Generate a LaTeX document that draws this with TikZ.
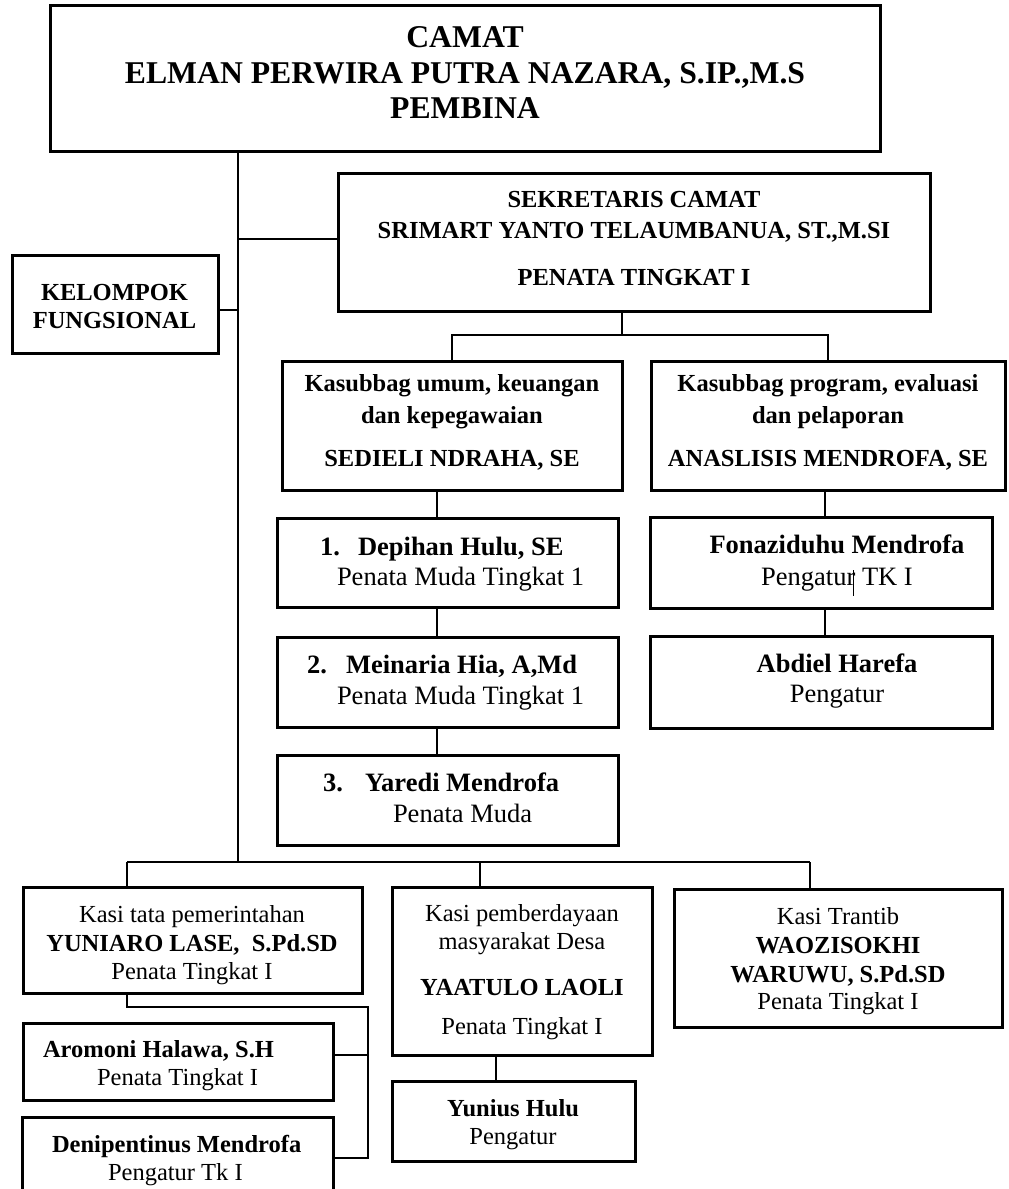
\documentclass[tikz,border=0pt]{standalone}
\usepackage{fontspec}
\setmainfont{Liberation Serif}
\begin{document}
\begin{tikzpicture}[x=1pt,y=-1pt,
  box/.style={draw, line width=3pt, inner sep=0pt, outer sep=0pt},
  conn/.style={line width=1.1pt},
  tl/.style={inner sep=0pt, outer sep=0pt, anchor=base},
  tlw/.style={inner sep=0pt, outer sep=0pt, anchor=base west},
  big/.style={tl, font=\bfseries\fontsize{31.7}{36}\selectfont},
  bb/.style={tl, font=\bfseries\fontsize{24.5}{28}\selectfont},
  rr/.style={tl, font=\fontsize{24.5}{28}\selectfont},
  bbw/.style={tlw, font=\bfseries\fontsize{24.5}{28}\selectfont},
  rrw/.style={tlw, font=\fontsize{24.5}{28}\selectfont},
  bL/.style={tl, font=\bfseries\fontsize{26.5}{30}\selectfont},
  rL/.style={tl, font=\fontsize{26.5}{30}\selectfont},
  bLw/.style={tlw, font=\bfseries\fontsize{26.5}{30}\selectfont},
  rLw/.style={tlw, font=\fontsize{26.5}{30}\selectfont},
]
\clip (0,0) rectangle (1009,1189);
\fill[white] (0,0) rectangle (1009,1189);

% boxes
\node[box, minimum width=830pt, minimum height=146pt] (camat) at (465,78) {};
\node[box, minimum width=592pt, minimum height=138pt] (sek) at (634,242) {};
\node[box, minimum width=206pt, minimum height=98pt] (kel) at (115,304) {};
\node[box, minimum width=340pt, minimum height=129pt] (kum) at (452,425.5) {};
\node[box, minimum width=354pt, minimum height=129pt] (kpr) at (828,425.5) {};
\node[box, minimum width=341pt, minimum height=89pt] (dep) at (447.5,562.5) {};
\node[box, minimum width=341pt, minimum height=90pt] (mei) at (447.5,682) {};
\node[box, minimum width=341pt, minimum height=90pt] (yar) at (447.5,800) {};
\node[box, minimum width=342pt, minimum height=91pt] (fon) at (821,562.5) {};
\node[box, minimum width=342pt, minimum height=92pt] (abd) at (821,682) {};
\node[box, minimum width=339pt, minimum height=106pt] (kt) at (192.5,940) {};
\node[box, minimum width=260pt, minimum height=168pt] (pem) at (522,971) {};
\node[box, minimum width=328pt, minimum height=138pt] (tra) at (838,958) {};
\node[box, minimum width=310pt, minimum height=77pt] (aro) at (178,1061.5) {};
\node[box, minimum width=311pt, minimum height=82pt] (den) at (177.5,1158) {};
\node[box, minimum width=243pt, minimum height=80pt] (yun) at (513.5,1121) {};

% connectors
\coordinate (bus) at (238,862);
\draw[conn] (camat.south -| bus) -- (bus);
\draw[conn] ([yshift=3pt]sek.west -| bus) -- ([yshift=3pt]sek.west);
\draw[conn] ([yshift=-6pt]kel.east) -- ([yshift=-6pt]kel.east -| bus);
\coordinate (j1) at (622,335);
\draw[conn] (sek.south -| j1) -- (j1);
\draw[conn] (kum.north) |- (j1) -| (kpr.north);
\coordinate (jl) at (437,500);
\draw[conn] (kum.south -| jl) -- (dep.north -| jl);
\draw[conn] (dep.south -| jl) -- (mei.north -| jl);
\draw[conn] (mei.south -| jl) -- (yar.north -| jl);
\coordinate (jr) at (825,500);
\draw[conn] (kpr.south -| jr) -- (fon.north -| jr);
\draw[conn] (fon.south -| jr) -- (abd.north -| jr);
\coordinate (bl) at (127,862);
\coordinate (bm) at (480,862);
\coordinate (br) at (810,862);
\draw[conn] (bl) -- (br);
\draw[conn] (bl) -- (kt.north -| bl);
\draw[conn] (bm) -- (pem.north -| bm);
\draw[conn] (br) -- (tra.north -| br);
\coordinate (kb) at (127,1007);
\coordinate (kr) at (368,1007);
\draw[conn] (kt.south -| kb) -- (kb) -- (kr) |- (den.east);
\draw[conn] ([yshift=6.5pt]aro.east) -- ([yshift=6.5pt]aro.east -| kr);
\coordinate (yj) at (496,1068);
\draw[conn] (pem.south -| yj) -- (yun.north -| yj);

% texts
\node[big] (t1) at (465,47) {CAMAT};
\node[big] (t2) at (465,83) {ELMAN PERWIRA PUTRA NAZARA, S.IP.,M.S};
\node[big] (t3) at (465,118.5) {PEMBINA};

\node[bb] (s1) at (634,207) {SEKRETARIS CAMAT};
\node[bb] (s2) at (634,238) {SRIMART YANTO TELAUMBANUA, ST.,M.SI};
\node[bb] (s3) at (634,285) {PENATA TINGKAT I};

\node[bb] (k1) at (114.5,300) {KELOMPOK};
\node[bb] (k2) at (114.5,328) {FUNGSIONAL};

\node[bb] (u1) at (452,391) {Kasubbag umum, keuangan};
\node[bb] (u2) at (452,423) {dan kepegawaian};
\node[bb] (u3) at (452,466) {SEDIELI NDRAHA, SE};

\node[bb] (p1) at (828,391) {Kasubbag program, evaluasi};
\node[bb] (p2) at (828,423) {dan pelaporan};
\node[bb] (p3) at (828,466) {ANASLISIS MENDROFA, SE};

\node[bLw] (d0) at (320,555) {1.};
\node[bLw] (d1) at (358,555) {Depihan Hulu, SE};
\node[rLw] (d2) at (337,585) {Penata Muda Tingkat 1};
\node[bLw] (m0) at (307,673) {2.};
\node[bLw] (m1) at (346,673) {Meinaria Hia, A,Md};
\node[rLw] (m2) at (337,704) {Penata Muda Tingkat 1};
\node[bLw] (y0) at (323,791) {3.};
\node[bLw] (y1) at (365,791) {Yaredi Mendrofa};
\node[rLw] (y2) at (393,822) {Penata Muda};

\node[bL] (f1) at (837,553) {Fonaziduhu Mendrofa};
\node[rL] (f2) at (837,585) {Pengatur TK I};
\draw[line width=1pt] (853,570) -- (853,596);
\node[bL] (a1) at (837,672) {Abdiel Harefa};
\node[rL] (a2) at (837,702) {Pengatur};

\node[rr] (kt1) at (192,922) {Kasi tata pemerintahan};
\node[bb] (kt2) at (192,951) {YUNIARO LASE,\ \ S.Pd.SD};
\node[rr] (kt3) at (192,979) {Penata Tingkat I};

\node[bbw] (ar1) at (43,1057) {Aromoni Halawa, S.H};
\node[rrw] (ar2) at (97,1085) {Penata Tingkat I};
\node[bbw] (de1) at (52,1152) {Denipentinus Mendrofa};
\node[rrw] (de2) at (108,1180) {Pengatur Tk I};

\node[rr] (pm1) at (522,921) {Kasi pemberdayaan};
\node[rr] (pm2) at (522,949) {masyarakat Desa};
\node[bb] (pm3) at (522,995) {YAATULO LAOLI};
\node[rr] (pm4) at (522,1034) {Penata Tingkat I};

\node[rr] (tr1) at (838,924) {Kasi Trantib};
\node[bb] (tr2) at (838,953) {WAOZISOKHI};
\node[bb] (tr3) at (838,982) {WARUWU, S.Pd.SD};
\node[rr] (tr4) at (838,1009) {Penata Tingkat I};

\node[bb] (yu1) at (513,1116) {Yunius Hulu};
\node[rr] (yu2) at (513,1144) {Pengatur};
\end{tikzpicture}
\end{document}
